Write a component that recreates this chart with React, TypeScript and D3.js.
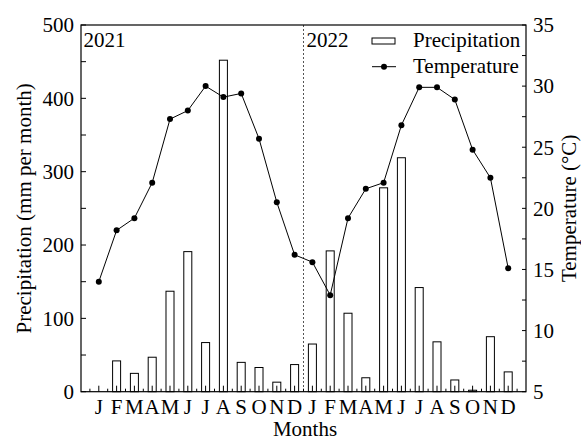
import React from "react";
import * as d3 from "d3";

const monthLabels = ["J", "F", "M", "A", "M", "J", "J", "A", "S", "O", "N", "D"];
const years = ["2021", "2022"];
const precip2021 = [0, 42, 25, 47, 137, 191, 67, 452, 40, 33, 13, 37];
const precip2022 = [65, 192, 107, 19, 278, 319, 142, 68, 16, 2, 75, 27];
const temp2021 = [14.0, 18.2, 19.2, 22.1, 27.3, 28.0, 30.0, 29.1, 29.4, 25.7, 20.5, 16.2];
const temp2022 = [15.6, 12.9, 19.2, 21.6, 22.1, 26.8, 29.9, 29.9, 28.9, 24.8, 22.5, 15.1];
const precipTicks = [0, 100, 200, 300, 400, 500];
const tempTicks = [5, 10, 15, 20, 25, 30, 35];

const W = 581;
const H = 441;
const L = 81, R = 526, T = 25, B = 391.7;
const FONT = '"Liberation Serif", "Times New Roman", Times, "DejaVu Serif", serif';
const FS = 21;

export default function App() {
  const labels = [...monthLabels, ...monthLabels];
  const precip = [...precip2021, ...precip2022];
  const temp = [...temp2021, ...temp2022];
  const n = labels.length;

  const x = d3.scaleLinear().domain([-1, n]).range([L, R]);
  const yP = d3.scaleLinear().domain([0, 500]).range([B, T]);
  const yT = d3.scaleLinear().domain([5, 35]).range([B, T]);
  const step = x(1) - x(0);
  const bw = step * 0.45;

  const line = d3
    .line<number>()
    .x((_, i) => x(i))
    .y((d) => yT(d));

  const minorP = d3.range(0, 501, 50);
  const minorT = d3.range(5, 35.01, 2.5);
  const xMinor = d3.range(-0.5, n, 1);
  const ts: React.CSSProperties = { fontFamily: FONT, fontSize: FS, fill: "#000" };

  return (
    <svg
      width={W}
      height={H}
      style={{ position: "absolute", left: 0, top: 0, background: "#fff" }}
    >
      {/* bars */}
      {precip.map((v, i) => (
        <rect
          key={"b" + i}
          x={x(i) - bw / 2}
          y={yP(v)}
          width={bw}
          height={Math.max(0, yP(0) - yP(v))}
          fill="#fff"
          stroke="#000"
          strokeWidth={1}
        />
      ))}
      {/* divider */}
      <line x1={x(11.5)} x2={x(11.5)} y1={T} y2={B} stroke="#555" strokeWidth={1} strokeDasharray="2,2" />
      {/* temperature line */}
      <path d={line(temp) || ""} fill="none" stroke="#000" strokeWidth={1} />
      {temp.map((v, i) => (
        <circle key={"c" + i} cx={x(i)} cy={yT(v)} r={3} fill="#000" />
      ))}
      {/* frame */}
      <rect x={L} y={T} width={R - L} height={B - T} fill="none" stroke="#000" strokeWidth={1.2} />
      {/* left ticks */}
      {minorP.map((v) => (
        <line key={"lp" + v} x1={L} x2={L + 5} y1={yP(v)} y2={yP(v)} stroke="#000" strokeWidth={1} />
      ))}
      {precipTicks.map((v) => (
        <text key={"tp" + v} x={L - 7} y={yP(v)} dy="0.35em" textAnchor="end" style={ts}>
          {v}
        </text>
      ))}
      {/* right ticks */}
      {minorT.map((v) => (
        <line key={"rt" + v} x1={R - 4} x2={R} y1={yT(v)} y2={yT(v)} stroke="#000" strokeWidth={1} />
      ))}
      {tempTicks.map((v) => (
        <text key={"tt" + v} x={R + 7} y={yT(v)} dy="0.35em" textAnchor="start" style={ts}>
          {v}
        </text>
      ))}
      {/* x ticks */}
      {labels.map((_, i) => (
        <line key={"xm" + i} x1={x(i)} x2={x(i)} y1={B} y2={B - 6} stroke="#000" strokeWidth={1} />
      ))}
      {xMinor.map((v) => (
        <line key={"xn" + v} x1={x(v)} x2={x(v)} y1={B} y2={B - 3} stroke="#000" strokeWidth={1} />
      ))}
      {labels.map((m, i) => (
        <text key={"xl" + i} x={x(i)} y={414} textAnchor="middle" style={ts}>
          {m}
        </text>
      ))}
      {/* axis titles */}
      <text x={305} y={436} textAnchor="middle" style={ts}>
        Months
      </text>
      <text
        transform={`translate(31,${(T + B) / 2}) rotate(-90)`}
        textAnchor="middle"
        style={ts}
      >
        Precipitation (mm per month)
      </text>
      <text
        transform={`translate(576,${(T + B) / 2}) rotate(-90)`}
        textAnchor="middle"
        style={ts}
      >
        Temperature (°C)
      </text>
      {/* year labels */}
      <text x={83.5} y={46.7} style={ts}>
        {years[0]}
      </text>
      <text x={306.5} y={46.7} style={ts}>
        {years[1]}
      </text>
      {/* legend */}
      <rect x={372} y={38} width={23} height={6} fill="#fff" stroke="#000" strokeWidth={1} />
      <text x={413} y={46.7} style={ts}>
        Precipitation
      </text>
      <line x1={372} x2={396} y1={66.7} y2={66.7} stroke="#000" strokeWidth={1} />
      <circle cx={384} cy={66.7} r={3} fill="#000" />
      <text x={413} y={73.3} style={ts}>
        Temperature
      </text>
    </svg>
  );
}
